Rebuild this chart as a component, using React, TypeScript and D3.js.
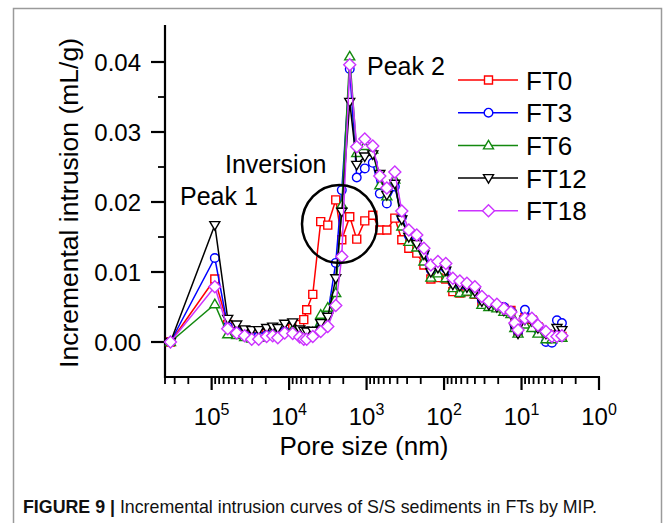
import React from "react";
import * as d3 from "d3";

const poreSize = [340000, 91000, 62000, 47500, 37500, 30400, 24700, 19500, 16300, 14000,
  11400, 8980, 7290, 6470, 5930, 4950, 3910, 3170, 2500, 2090,
  1650, 1340, 1055, 832, 675, 548, 432, 351, 285, 225,
  182, 148, 120, 95, 77, 62.5, 50.7, 40, 32.5, 26.4,
  20.8, 16.9, 13.7, 12.2, 11.1, 9.04, 7.35, 6.14, 4.84, 4.05,
  3.49, 3.01];

const ft0 = [0, 0.0090, 0.0025, 0.0015, 0.0010, 0.0008, 0.0008, 0.0012, 0.0014, 0.0012,
  0.0018, 0.0020, 0.0025, 0.0032, 0.0046, 0.0068, 0.0172, 0.0167, 0.0203, 0.0146,
  0.0179, 0.0147, 0.0173, 0.0181, 0.0160, 0.0160, 0.0177, 0.0146, 0.0134, 0.0127,
  0.0110, 0.0090, 0.0092, 0.0090, 0.0072, 0.0070, 0.0072, 0.0068, 0.0055, 0.0052,
  0.0050, 0.0048, 0.0045, 0.0025, 0.0015, 0.0035, 0.0032, 0.0022, 0.0012, 0.0006,
  0.0010, 0.0008];

const ft3 = [0, 0.0120, 0.0022, 0.0015, 0.0010, 0.0008, 0.0008, 0.0010, 0.0012, 0.0010,
  0.0015, 0.0014, 0.0010, 0.0008, 0.0008, 0.0012, 0.0022, 0.0040, 0.0113, 0.0217,
  0.0390, 0.0235, 0.0248, 0.0256, 0.0212, 0.0198, 0.0222, 0.0178, 0.0152, 0.0145,
  0.0128, 0.0103, 0.0108, 0.0105, 0.0085, 0.0082, 0.0080, 0.0075, 0.0060, 0.0055,
  0.0052, 0.0050, 0.0044, 0.0022, 0.0014, 0.0046, 0.0033, 0.0018, 0.0000, -0.0001,
  0.0031, 0.0027];

const ft6 = [0, 0.0054, 0.0011, 0.0010, 0.0007, 0.0005, 0.0006, 0.0010, 0.0014, 0.0012,
  0.0016, 0.0018, 0.0012, 0.0010, 0.0010, 0.0014, 0.0039, 0.0049, 0.0070, 0.0196,
  0.0408, 0.0270, 0.0280, 0.0275, 0.0224, 0.0208, 0.0232, 0.0165, 0.0143, 0.0135,
  0.0115, 0.0092, 0.0098, 0.0091, 0.0077, 0.0070, 0.0072, 0.0068, 0.0053, 0.0050,
  0.0048, 0.0043, 0.0040, 0.0020, 0.0012, 0.0025, 0.0020, 0.0012, 0.0004, 0.0004,
  0.0008, 0.0006];

const ft12 = [0, 0.0167, 0.0033, 0.0025, 0.0018, 0.0017, 0.0017, 0.0020, 0.0022, 0.0020,
  0.0026, 0.0028, 0.0018, 0.0016, 0.0015, 0.0016, 0.0027, 0.0036, 0.0091, 0.0186,
  0.0343, 0.0253, 0.0265, 0.0268, 0.0240, 0.0210, 0.0226, 0.0175, 0.0150, 0.0140,
  0.0125, 0.0100, 0.0106, 0.0102, 0.0082, 0.0080, 0.0078, 0.0072, 0.0058, 0.0053,
  0.0050, 0.0045, 0.0040, 0.0020, 0.0012, 0.0032, 0.0030, 0.0020, 0.0012, 0.0008,
  0.0020, 0.0017];

const ft18 = [0, 0.0079, 0.0019, 0.0013, 0.0009, 0.0004, 0.0004, 0.0008, 0.0009, 0.0006,
  0.0013, 0.0012, 0.0007, 0.0004, 0.0004, 0.0008, 0.0015, 0.0022, 0.0052, 0.0122,
  0.0396, 0.0279, 0.0290, 0.0280, 0.0237, 0.0220, 0.0243, 0.0187, 0.0160, 0.0153,
  0.0134, 0.0110, 0.0115, 0.0112, 0.0091, 0.0087, 0.0084, 0.0079, 0.0065, 0.0058,
  0.0054, 0.0048, 0.0043, 0.0027, 0.0017, 0.0034, 0.0034, 0.0024, 0.0015, 0.0008,
  0.0008, 0.0009];

const seriesNames = ["FT0", "FT3", "FT6", "FT12", "FT18"];
const seriesValues = [ft0, ft3, ft6, ft12, ft18];
const seriesColors = ["#ff0000", "#0000ff", "#13890f", "#000000", "#cc33ff"];
const seriesMarkers = ["square", "circle", "triUp", "triDown", "diamond"];

const yTicks = [0, 0.01, 0.02, 0.03, 0.04];
const yMinorTicks = [0.005, 0.015, 0.025, 0.035];
const xMajorExps = [5, 4, 3, 2, 1, 0];

const FONT = "'Liberation Sans', Arial, Helvetica, sans-serif";

function markerPath(kind: string, cx: number, cy: number): string {
  switch (kind) {
    case "square": {
      const h = 4;
      return `M${cx - h},${cy - h}H${cx + h}V${cy + h}H${cx - h}Z`;
    }
    case "circle": {
      const r = 4.3;
      return `M${cx - r},${cy}A${r},${r} 0 1,0 ${cx + r},${cy}A${r},${r} 0 1,0 ${cx - r},${cy}Z`;
    }
    case "triUp":
      return `M${cx},${cy - 5}L${cx + 5},${cy + 3.5}L${cx - 5},${cy + 3.5}Z`;
    case "triDown":
      return `M${cx},${cy + 5}L${cx + 5},${cy - 3.5}L${cx - 5},${cy - 3.5}Z`;
    case "diamond":
      return `M${cx},${cy - 6}L${cx + 6},${cy}L${cx},${cy + 6}L${cx - 6},${cy}Z`;
  }
  return "";
}

export default function App() {
  const x = d3.scaleLog().domain([4e5, 1]).range([165, 599]);
  const y = d3.scaleLinear().domain([-0.005, 0.045]).range([377, 27]);

  const line = d3
    .line<[number, number]>()
    .x((d) => x(d[0]))
    .y((d) => y(d[1]));

  const xMinor: number[] = [];
  for (let e = 0; e <= 5; e++) {
    for (let m = 2; m <= 9; m++) {
      const v = m * Math.pow(10, e);
      if (v <= 4e5) xMinor.push(v);
    }
  }

  const legendX1 = 458;
  const legendX2 = 518;
  const legendY0 = 80;
  const legendDy = 32.7;

  return (
    <svg
      width={663}
      height={523}
      style={{ position: "absolute", left: 0, top: 0, display: "block", background: "#fff" }}
      fontFamily={FONT}
    >
      <rect x={0} y={0} width={663} height={523} fill="#fff" />
      <rect x={13.5} y={8.5} width={648} height={540} fill="none" stroke="#9a9a9a" strokeWidth={1.5} />

      {/* Y axis */}
      <line x1={165} x2={165} y1={25} y2={378} stroke="#000" strokeWidth={2.2} />
      {yTicks.map((t) => (
        <g key={"yt" + t}>
          <line x1={151} x2={165} y1={y(t)} y2={y(t)} stroke="#000" strokeWidth={2.2} />
          <text x={141} y={y(t) + 8.5} textAnchor="end" fontSize={24} fill="#000">
            {t.toFixed(2)}
          </text>
        </g>
      ))}
      {yMinorTicks.map((t) => (
        <line key={"ym" + t} x1={158} x2={165} y1={y(t)} y2={y(t)} stroke="#000" strokeWidth={1.8} />
      ))}

      {/* X axis */}
      <line x1={164} x2={600} y1={377} y2={377} stroke="#000" strokeWidth={2.2} />
      {xMinor.map((v) => (
        <line key={"xm" + v} x1={x(v)} x2={x(v)} y1={377} y2={384} stroke="#000" strokeWidth={1.8} />
      ))}
      {xMajorExps.map((e) => (
        <g key={"xt" + e}>
          <line x1={x(Math.pow(10, e))} x2={x(Math.pow(10, e))} y1={377} y2={390} stroke="#000" strokeWidth={2.2} />
          <text x={x(Math.pow(10, e))} y={425} textAnchor="middle" fontSize={24} fill="#000">
            10
            <tspan dy={-10} fontSize={16}>
              {String(e)}
            </tspan>
          </text>
        </g>
      ))}

      <text x={364} y={455} textAnchor="middle" fontSize={26} fill="#000">
        Pore size (nm)
      </text>
      <text
        transform="translate(78,203) rotate(-90)"
        textAnchor="middle"
        fontSize={26.5}
        fill="#000"
      >
        Incremental intrusion (mL/g)
      </text>

      {/* Series */}
      {seriesValues.map((vals, i) => {
        const pts: [number, number][] = poreSize.map((s, j) => [s, vals[j]]);
        return (
          <g key={seriesNames[i]}>
            <path d={line(pts) || ""} fill="none" stroke={seriesColors[i]} strokeWidth={1.5} />
            {pts.map((p, j) => (
              <path
                key={j}
                d={markerPath(seriesMarkers[i], x(p[0]), y(p[1]))}
                fill="#fff"
                stroke={seriesColors[i]}
                strokeWidth={1.4}
              />
            ))}
          </g>
        );
      })}

      {/* Annotations */}
      <text x={180} y={205} fontSize={25} fill="#000">Peak 1</text>
      <text x={225} y={173} fontSize={25} fill="#000">Inversion</text>
      <text x={367} y={75} fontSize={25} fill="#000">Peak 2</text>
      <ellipse cx={339.5} cy={224} rx={37.5} ry={39} fill="none" stroke="#000" strokeWidth={2.5} />

      {/* Legend */}
      {seriesNames.map((n, i) => {
        const ly = legendY0 + i * legendDy;
        return (
          <g key={"lg" + n}>
            <line x1={legendX1} x2={legendX2} y1={ly} y2={ly} stroke={seriesColors[i]} strokeWidth={1.5} />
            <path
              d={markerPath(seriesMarkers[i], (legendX1 + legendX2) / 2 + 0.5, ly)}
              fill="#fff"
              stroke={seriesColors[i]}
              strokeWidth={1.4}
            />
            <text x={526} y={ly + 9.5} fontSize={26} fill="#000">{n}</text>
          </g>
        );
      })}

      {/* Caption */}
      <text x={23} y={513} fontSize={19} fill="#111" textLength={574} lengthAdjust="spacingAndGlyphs">
        <tspan fontWeight="bold">FIGURE 9 |</tspan>
        <tspan> Incremental intrusion curves of S/S sediments in FTs by MIP.</tspan>
      </text>
    </svg>
  );
}
